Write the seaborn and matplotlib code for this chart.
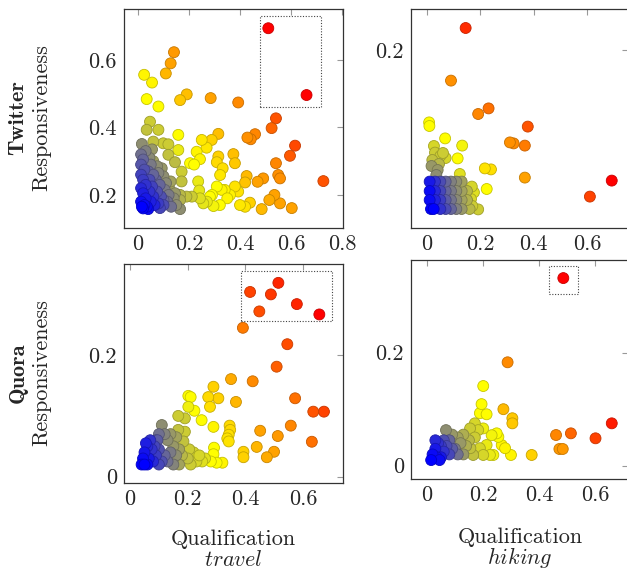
import matplotlib
matplotlib.use("Agg")
import pandas as pd
import matplotlib.pyplot as plt
import seaborn as sns
from matplotlib import ticker
from matplotlib.colors import LinearSegmentedColormap
from matplotlib.patches import Rectangle

# (qualification, responsiveness, colour meta 0..1)
tl_points = [
    (0.511, 0.694, 1.0), (0.661, 0.496, 1.0),
    (0.141, 0.623, 0.72), (0.128, 0.590, 0.70), (0.109, 0.560, 0.66),
    (0.024, 0.556, 0.52), (0.055, 0.533, 0.52), (0.034, 0.484, 0.50), (0.080, 0.462, 0.50),
    (0.165, 0.481, 0.62), (0.191, 0.498, 0.64), (0.285, 0.487, 0.70), (0.393, 0.474, 0.75),
    (0.541, 0.427, 0.85), (0.524, 0.398, 0.82), (0.616, 0.346, 0.87), (0.596, 0.316, 0.84),
    (0.727, 0.241, 0.85), (0.459, 0.380, 0.76), (0.429, 0.370, 0.74), (0.442, 0.365, 0.75),
    (0.315, 0.381, 0.64), (0.289, 0.363, 0.60), (0.250, 0.363, 0.55), (0.269, 0.340, 0.55),
    (0.230, 0.328, 0.52), (0.243, 0.306, 0.52), (0.204, 0.294, 0.50), (0.220, 0.290, 0.50),
    (0.315, 0.314, 0.60), (0.309, 0.297, 0.58), (0.322, 0.259, 0.55), (0.332, 0.279, 0.57),
    (0.374, 0.321, 0.64), (0.380, 0.294, 0.62), (0.426, 0.256, 0.65), (0.420, 0.237, 0.63),
    (0.469, 0.239, 0.70), (0.491, 0.249, 0.72), (0.541, 0.294, 0.76), (0.550, 0.259, 0.74),
    (0.557, 0.249, 0.74), (0.535, 0.200, 0.70), (0.515, 0.185, 0.68), (0.557, 0.175, 0.70),
    (0.485, 0.158, 0.65), (0.603, 0.161, 0.70), (0.439, 0.177, 0.60), (0.420, 0.165, 0.56),
    (0.400, 0.170, 0.55), (0.393, 0.210, 0.56), (0.380, 0.225, 0.56), (0.361, 0.200, 0.53),
    (0.328, 0.215, 0.52), (0.309, 0.225, 0.50), (0.290, 0.200, 0.50), (0.282, 0.195, 0.50),
    (0.321, 0.170, 0.50), (0.296, 0.167, 0.48), (0.256, 0.175, 0.45), (0.236, 0.240, 0.46),
    (0.240, 0.213, 0.45), (0.211, 0.195, 0.40), (0.190, 0.195, 0.38), (0.243, 0.190, 0.44),
    (0.350, 0.190, 0.52), (0.340, 0.215, 0.52), (0.270, 0.180, 0.46),
    (0.158, 0.378, 0.50), (0.158, 0.333, 0.46), (0.171, 0.269, 0.40), (0.171, 0.240, 0.38),
    (0.145, 0.297, 0.37), (0.119, 0.319, 0.38), (0.099, 0.353, 0.40), (0.119, 0.350, 0.40),
    (0.080, 0.393, 0.40), (0.047, 0.417, 0.40), (0.034, 0.393, 0.38), (0.060, 0.358, 0.38),
    (0.015, 0.351, 0.28), (0.060, 0.300, 0.32), (0.093, 0.279, 0.30), (0.128, 0.240, 0.32),
    (0.125, 0.215, 0.32), (0.165, 0.200, 0.36), (0.165, 0.185, 0.35), (0.165, 0.158, 0.28),
    (0.086, 0.161, 0.14), (0.100, 0.185, 0.20), (0.040, 0.158, 0.02), (0.020, 0.160, 0.00),
    (0.030, 0.330, 0.25), (0.055, 0.335, 0.30),
    (0.012, 0.320, 0.22), (0.020, 0.305, 0.20), (0.012, 0.290, 0.17), (0.025, 0.275, 0.16),
    (0.012, 0.260, 0.13), (0.020, 0.245, 0.12), (0.030, 0.230, 0.10), (0.012, 0.220, 0.08),
    (0.020, 0.205, 0.06), (0.030, 0.190, 0.05), (0.012, 0.180, 0.03), (0.025, 0.170, 0.02),
    (0.015, 0.165, 0.00), (0.035, 0.165, 0.02),
    (0.045, 0.310, 0.27), (0.050, 0.290, 0.24), (0.040, 0.270, 0.20), (0.060, 0.260, 0.20),
    (0.045, 0.245, 0.15), (0.055, 0.225, 0.13), (0.045, 0.210, 0.10), (0.060, 0.195, 0.10),
    (0.050, 0.180, 0.06), (0.065, 0.170, 0.07),
    (0.075, 0.285, 0.28), (0.080, 0.265, 0.26), (0.070, 0.245, 0.20), (0.085, 0.230, 0.20),
    (0.075, 0.210, 0.16), (0.090, 0.195, 0.16), (0.080, 0.175, 0.12), (0.100, 0.170, 0.15),
    (0.100, 0.255, 0.28), (0.110, 0.235, 0.27), (0.105, 0.215, 0.24), (0.120, 0.200, 0.24),
    (0.115, 0.180, 0.22), (0.130, 0.165, 0.22), (0.140, 0.190, 0.28), (0.145, 0.205, 0.30),
    (0.150, 0.170, 0.28),
]

tr_points = [
    (0.145, 0.2110, 0.92), (0.090, 0.1847, 0.74), (0.192, 0.1680, 0.76), (0.231, 0.1708, 0.80),
    (0.378, 0.1617, 0.85), (0.311, 0.1538, 0.74), (0.325, 0.1533, 0.75), (0.367, 0.1522, 0.78),
    (0.367, 0.1362, 0.70), (0.693, 0.1347, 1.00), (0.611, 0.1267, 0.88),
    (0.008, 0.1638, 0.50), (0.009, 0.1620, 0.50), (0.068, 0.1558, 0.50), (0.132, 0.1522, 0.48),
    (0.115, 0.1458, 0.50), (0.123, 0.1380, 0.44), (0.217, 0.1408, 0.56), (0.240, 0.1403, 0.57),
    (0.224, 0.1305, 0.50),
    (0.168, 0.1317, 0.42), (0.176, 0.1288, 0.44), (0.165, 0.1255, 0.42), (0.192, 0.1203, 0.40),
    (0.150, 0.1245, 0.40), (0.170, 0.1220, 0.40),
    (0.026, 0.1520, 0.42), (0.030, 0.1487, 0.40), (0.050, 0.1470, 0.40), (0.070, 0.1460, 0.42),
    (0.060, 0.1485, 0.40), (0.020, 0.1450, 0.38), (0.045, 0.1430, 0.36), (0.017, 0.1420, 0.30),
    (0.035, 0.1375, 0.28), (0.040, 0.1400, 0.30),
    (0.010, 0.1342, 0.05), (0.030, 0.1342, 0.10), (0.050, 0.1342, 0.15), (0.070, 0.1342, 0.20),
    (0.090, 0.1342, 0.25), (0.110, 0.1342, 0.28), (0.130, 0.1342, 0.32),
    (0.010, 0.1295, 0.02), (0.030, 0.1295, 0.08), (0.050, 0.1295, 0.14), (0.070, 0.1295, 0.20),
    (0.090, 0.1295, 0.24), (0.110, 0.1295, 0.28), (0.130, 0.1295, 0.32), (0.150, 0.1295, 0.36),
    (0.010, 0.1250, 0.02), (0.030, 0.1250, 0.07), (0.050, 0.1250, 0.12), (0.070, 0.1250, 0.18),
    (0.090, 0.1250, 0.23), (0.110, 0.1250, 0.27), (0.130, 0.1250, 0.32), (0.150, 0.1250, 0.35),
    (0.015, 0.1205, 0.00), (0.025, 0.1205, 0.00), (0.050, 0.1205, 0.10), (0.070, 0.1205, 0.15),
    (0.090, 0.1205, 0.20), (0.110, 0.1205, 0.25), (0.130, 0.1205, 0.30), (0.160, 0.1205, 0.36),
]

bl_points = [
    (0.656, 0.267, 1.00), (0.514, 0.319, 0.93), (0.488, 0.300, 0.90), (0.416, 0.304, 0.88),
    (0.448, 0.272, 0.86), (0.578, 0.284, 0.93), (0.391, 0.245, 0.78), (0.545, 0.218, 0.86),
    (0.508, 0.181, 0.83), (0.572, 0.129, 0.80), (0.635, 0.107, 0.85), (0.672, 0.107, 0.88),
    (0.557, 0.084, 0.76), (0.630, 0.0575, 0.80), (0.512, 0.0669, 0.72), (0.499, 0.041, 0.70),
    (0.474, 0.032, 0.68), (0.439, 0.049, 0.66), (0.451, 0.0756, 0.70), (0.425, 0.157, 0.75),
    (0.350, 0.1606, 0.68), (0.367, 0.123, 0.66), (0.393, 0.041, 0.60), (0.393, 0.032, 0.60),
    (0.345, 0.084, 0.58), (0.347, 0.077, 0.58), (0.342, 0.069, 0.57), (0.337, 0.063, 0.56),
    (0.342, 0.058, 0.56),
    (0.289, 0.148, 0.60), (0.271, 0.131, 0.58), (0.306, 0.129, 0.60), (0.277, 0.115, 0.57),
    (0.289, 0.082, 0.52), (0.291, 0.0477, 0.50), (0.289, 0.037, 0.50), (0.320, 0.023, 0.52),
    (0.300, 0.023, 0.50), (0.280, 0.025, 0.50), (0.248, 0.093, 0.50), (0.223, 0.1085, 0.50),
    (0.202, 0.133, 0.50), (0.210, 0.131, 0.50), (0.202, 0.115, 0.47),
    (0.167, 0.100, 0.40), (0.190, 0.096, 0.40), (0.167, 0.077, 0.38), (0.190, 0.074, 0.40),
    (0.185, 0.058, 0.38), (0.205, 0.045, 0.40), (0.220, 0.040, 0.42), (0.240, 0.035, 0.42),
    (0.260, 0.030, 0.44), (0.230, 0.025, 0.42), (0.250, 0.025, 0.44), (0.200, 0.030, 0.38),
    (0.180, 0.035, 0.36), (0.210, 0.020, 0.40), (0.170, 0.020, 0.32), (0.150, 0.030, 0.30),
    (0.110, 0.085, 0.28), (0.130, 0.060, 0.28), (0.150, 0.050, 0.30), (0.160, 0.065, 0.32),
    (0.140, 0.070, 0.30), (0.120, 0.070, 0.26), (0.100, 0.070, 0.22), (0.090, 0.060, 0.18),
    (0.040, 0.020, 0.00), (0.045, 0.030, 0.02), (0.050, 0.040, 0.04), (0.060, 0.050, 0.08),
    (0.070, 0.060, 0.10), (0.055, 0.055, 0.06), (0.075, 0.045, 0.10), (0.065, 0.030, 0.05),
    (0.080, 0.025, 0.08), (0.090, 0.035, 0.12), (0.100, 0.045, 0.16), (0.110, 0.025, 0.16),
    (0.120, 0.035, 0.20), (0.130, 0.025, 0.22), (0.140, 0.040, 0.24), (0.100, 0.020, 0.14),
    (0.085, 0.050, 0.14), (0.095, 0.060, 0.18), (0.060, 0.020, 0.02), (0.050, 0.020, 0.00),
    (0.150, 0.020, 0.26), (0.160, 0.035, 0.28), (0.170, 0.045, 0.32),
]

br_points = [
    (0.487, 0.332, 1.00), (0.660, 0.075, 0.95), (0.602, 0.0485, 0.88), (0.514, 0.0573, 0.82),
    (0.461, 0.0543, 0.76), (0.473, 0.0296, 0.72), (0.485, 0.0296, 0.72), (0.288, 0.183, 0.75),
    (0.273, 0.100, 0.65), (0.305, 0.084, 0.62), (0.305, 0.075, 0.62), (0.374, 0.019, 0.60),
    (0.201, 0.141, 0.50), (0.195, 0.109, 0.50), (0.189, 0.093, 0.50), (0.213, 0.091, 0.50),
    (0.249, 0.0573, 0.50), (0.255, 0.051, 0.50), (0.267, 0.0366, 0.52), (0.279, 0.031, 0.52),
    (0.300, 0.019, 0.52), (0.201, 0.066, 0.47), (0.231, 0.054, 0.48), (0.213, 0.0366, 0.46),
    (0.237, 0.019, 0.48), (0.225, 0.019, 0.46),
    (0.171, 0.075, 0.42), (0.154, 0.066, 0.40), (0.183, 0.063, 0.42), (0.171, 0.050, 0.40),
    (0.189, 0.031, 0.42), (0.201, 0.019, 0.42), (0.165, 0.019, 0.38), (0.155, 0.031, 0.38),
    (0.068, 0.063, 0.28), (0.090, 0.055, 0.30), (0.110, 0.050, 0.32), (0.130, 0.055, 0.34),
    (0.120, 0.040, 0.30), (0.140, 0.035, 0.34), (0.100, 0.030, 0.24), (0.130, 0.020, 0.30),
    (0.150, 0.045, 0.36), (0.080, 0.045, 0.20),
    (0.015, 0.010, 0.00), (0.020, 0.020, 0.02), (0.030, 0.030, 0.05), (0.040, 0.040, 0.10),
    (0.050, 0.035, 0.12), (0.035, 0.015, 0.03), (0.050, 0.015, 0.05), (0.060, 0.025, 0.10),
    (0.070, 0.035, 0.15), (0.080, 0.020, 0.14), (0.090, 0.030, 0.18), (0.110, 0.020, 0.22),
    (0.060, 0.045, 0.16), (0.030, 0.045, 0.08), (0.045, 0.010, 0.02),
]

tl_box = (0.478, 0.461, 0.718, 0.730)
tr_box = None
bl_box = (0.384, 0.256, 0.700, 0.338)
br_box = (0.437, 0.303, 0.540, 0.354)

sns.set_style("white")
plt.rcParams.update({
    "font.family": "serif",
    "font.serif": ["cmr10"],
    "mathtext.fontset": "cm",
    "axes.formatter.use_mathtext": True,
    "axes.unicode_minus": False,
})

cmap = LinearSegmentedColormap.from_list(
    "meta", [(0.0, "#0000ff"), (0.25, "#808080"), (0.5, "#ffff00"),
             (0.75, "#ff8c00"), (1.0, "#ff0000")])


def panel(ax, pts, xlim, ylim, xticks, yticks, box):
    df = pd.DataFrame(pts, columns=["q", "r", "m"]).sort_values("m", ascending=False)
    sns.scatterplot(data=df, x="q", y="r", hue="m", palette=cmap, hue_norm=(0, 1),
                    s=62, linewidth=0.6, legend=False, ax=ax, zorder=3)
    coll = ax.collections[-1]
    ec = coll.get_facecolors().copy()
    ec[:, :3] *= 0.78
    coll.set_edgecolors(ec)
    if box is not None:
        ax.add_patch(Rectangle((box[0], box[1]), box[2] - box[0], box[3] - box[1],
                               fill=False, ls=(0, (1, 1.5)), lw=0.8, ec="#444444", zorder=4))
    ax.set_xlim(*xlim)
    ax.set_ylim(*ylim)
    ax.set_xticks(xticks)
    ax.set_yticks(yticks)
    fmt = ticker.FuncFormatter(lambda v, p: f"{v:g}")
    ax.xaxis.set_major_formatter(fmt)
    ax.yaxis.set_major_formatter(fmt)
    ax.set_xlabel("")
    ax.set_ylabel("")
    ax.tick_params(direction="in", length=4.3, width=0.8, color="#999999",
                   top=True, right=True, labelsize=16, pad=5)
    for sp in ax.spines.values():
        sp.set_color("#333333")
        sp.set_linewidth(0.9)


W, H = 627, 571
fig = plt.figure(figsize=(W / 100, H / 100), dpi=100)
ax_tl = fig.add_axes([124 / W, 1 - 228 / H, 219 / W, 219 / H])
ax_tr = fig.add_axes([411 / W, 1 - 228 / H, 217 / W, 219 / H])
ax_bl = fig.add_axes([124 / W, 1 - 483 / H, 219 / W, 219 / H])
ax_br = fig.add_axes([411 / W, 1 - 479 / H, 217 / W, 219 / H])

panel(ax_tl, tl_points, (-0.055, 0.804), (0.102, 0.751), [0, 0.2, 0.4, 0.6, 0.8], [0.2, 0.4, 0.6], tl_box)
panel(ax_tr, tr_points, (-0.060, 0.754), (0.111, 0.2205), [0, 0.2, 0.4, 0.6], [0.2], tr_box)
panel(ax_bl, bl_points, (-0.021, 0.738), (-0.0104, 0.35), [0, 0.2, 0.4, 0.6], [0, 0.2], bl_box)
panel(ax_br, br_points, (-0.057, 0.718), (-0.0235, 0.364), [0, 0.2, 0.4, 0.6], [0, 0.2], br_box)

for name, yc in [("Twitter", 118), ("Quora", 373)]:
    fig.text(18 / W, 1 - yc / H, name, family="cmb10", fontsize=16,
             rotation=90, ha="center", va="center")
    fig.text(42 / W, 1 - yc / H, "Responsiveness", fontsize=16,
             rotation=90, ha="center", va="center")

for xc, yb, topic in [(233.5, 545, "travel"), (520, 543, "hiking")]:
    fig.text(xc / W, 1 - yb / H, "Qualification", fontsize=16, ha="center", va="baseline")
    fig.text(xc / W, 1 - (yb + 21) / H, r"$\mathit{" + topic + "}$", fontsize=16,
             ha="center", va="baseline")

fig.savefig("out.png", dpi=100)
